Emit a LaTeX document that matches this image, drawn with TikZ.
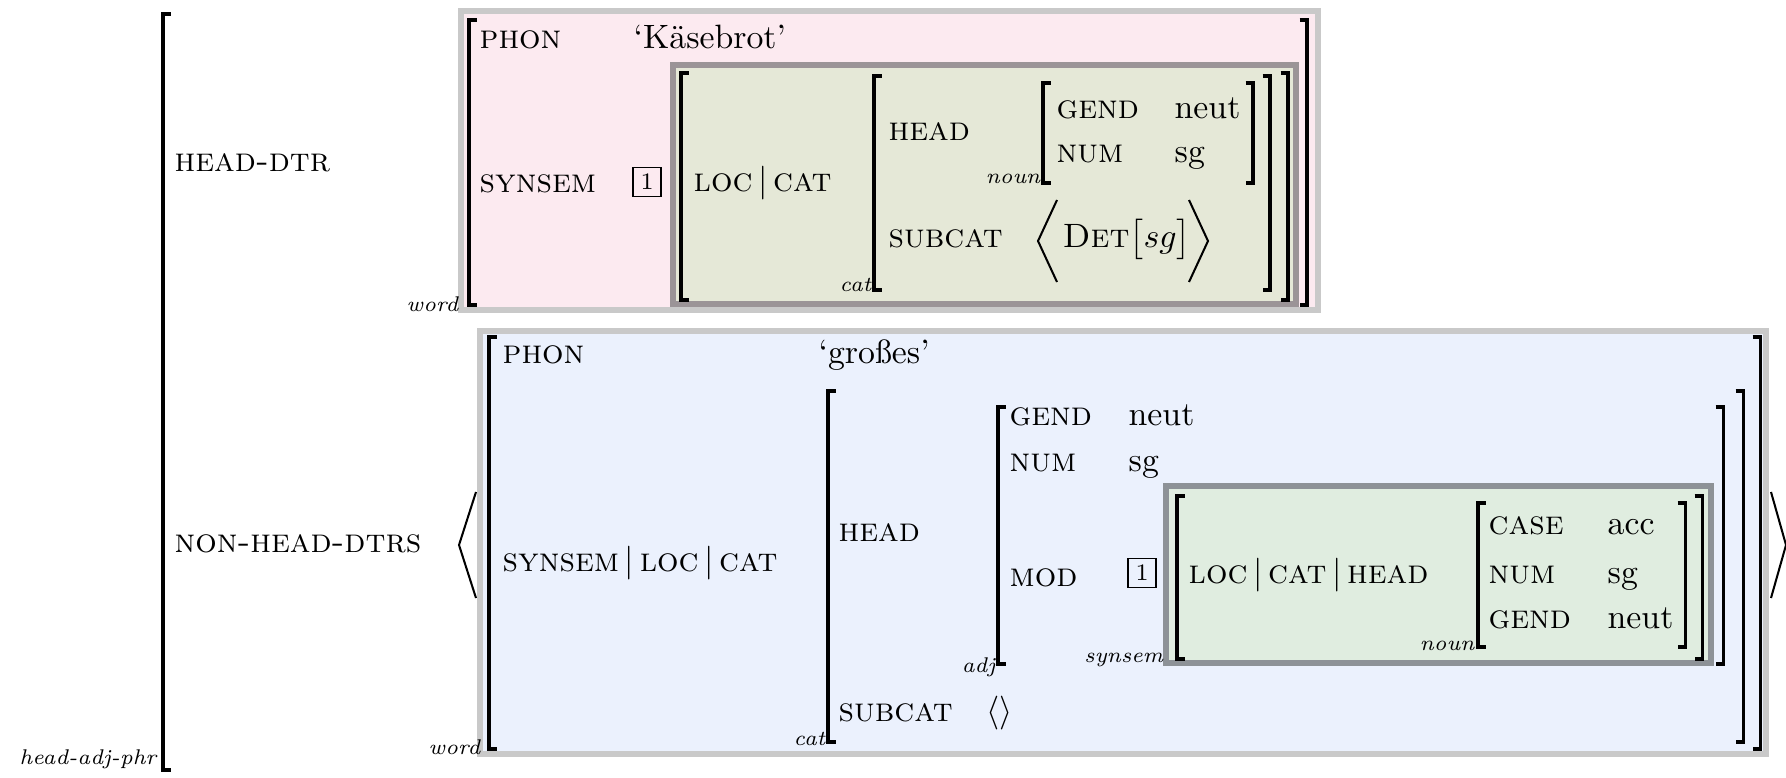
\documentclass[tikz,border=0pt]{standalone}
\usepackage{tikz}

\definecolor{pinkfill}{RGB}{252,234,240}
\definecolor{olivefill}{RGB}{229,232,215}
\definecolor{bluefill}{RGB}{235,241,253}
\definecolor{greenfill}{RGB}{224,237,224}
\definecolor{lightframe}{RGB}{201,201,201}
\definecolor{oliveframe}{RGB}{155,148,151}
\definecolor{greenframe}{RGB}{141,146,151}

\tikzset{
  feat/.style={anchor=base west,inner sep=0pt,font=\scshape},
  val/.style={anchor=base west,inner sep=0pt},
  sortlbl/.style={anchor=base east,inner sep=0pt,font=\fontsize{6.3}{7}\selectfont\itshape},
  tagbox/.style={draw,line width=.5pt,font=\scriptsize,inner sep=0pt,
    minimum width=8.4pt,minimum height=8.6pt},
  brk/.style={line width=.9pt},
  angl/.style={line width=.6pt},
  frame/.style={line width=1.5pt}
}

% AVM brackets: x, top, bottom
\newcommand\avmL[3]{\draw[brk] (#1+7.5,#2) -- (#1,#2) -- (#1,#3) -- (#1+7.5,#3);}
\newcommand\avmR[3]{\draw[brk] (#1-7.5,#2) -- (#1,#2) -- (#1,#3) -- (#1-7.5,#3);}

\begin{document}
\begin{tikzpicture}[x=0.296pt,y=-0.296pt]
  \useasboundingbox (0,0) rectangle (1786,778);

  % coloured boxes
  \draw[frame,lightframe,fill=pinkfill] (461,11) rectangle (1318,310);
  \draw[frame,oliveframe,fill=olivefill] (673,65) rectangle (1296,304);
  \draw[frame,lightframe,fill=bluefill] (480,331) rectangle (1766,754);
  \draw[frame,greenframe,fill=greenfill] (1166,486) rectangle (1711,663);

  % brackets
  \avmL{163}{14}{770}
  \avmL{469}{20}{305} \avmR{1307}{20}{305}
  \avmL{681}{73}{300} \avmR{1288}{73}{300}
  \avmL{874}{76}{290} \avmR{1270}{76}{290}
  \avmL{1043}{83}{183} \avmR{1253}{83}{183}
  \avmL{489}{337}{749} \avmR{1760}{337}{749}
  \avmL{828}{391}{742} \avmR{1743}{391}{742}
  \avmL{998}{407}{664} \avmR{1723}{407}{664}
  \avmL{1177}{496}{659} \avmR{1702}{496}{659}
  \avmL{1478}{503}{647} \avmR{1685}{503}{647}

  % list brackets
  \draw[angl] (476,492) -- (459,545) -- (476,598);
  \draw[angl] (1771,492) -- (1786,545) -- (1771,598);
  \draw[angl] (1057,200) -- (1038,241) -- (1057,282);
  \draw[angl] (1189,200) -- (1208,241) -- (1189,282);

  % outer matrix
  \node[feat] (hdtr) at (174,172) {head-dtr};
  \node[feat] (nhdtrs) at (174,552) {non-head-dtrs};
  \node[sortlbl] (hap) at (157,764) {head-adj-phr};

  % head daughter
  \node[sortlbl] (word1) at (459,312) {word};
  \node[feat] (phon1) at (479,49) {phon};
  \node[val] (kb) at (633,49) {‘Käsebrot’};
  \node[feat] (ss1) at (479,193) {synsem};
  \node[tagbox] (tag1) at (647,182) {1};
  \node[val] (lc1) at (693,192) {\textsc{loc}$\,|\,$\textsc{cat}};
  \node[sortlbl] (cat1) at (872,292) {cat};
  \node[feat] (hd1) at (888,141) {head};
  \node[sortlbl] (noun1) at (1041,184) {noun};
  \node[feat] (gd1) at (1056,119) {gend};
  \node[val] (gv1) at (1174,119) {neut};
  \node[feat] (nm1) at (1056,163) {num};
  \node[val] (nv1) at (1174,163) {sg};
  \node[feat] (sc1) at (888,248) {subcat};
  \node[val] (det) at (1062,248) {\textsc{Det}$\bigl[sg\bigr]$};

  % non-head daughter
  \node[sortlbl] (word2) at (481,754) {word};
  \node[feat] (phon2) at (502,364) {phon};
  \node[val] (gr) at (818,364) {‘großes’};
  \node[val] (slc2) at (502,571) {\textsc{synsem}$\,|\,$\textsc{loc}$\,|\,$\textsc{cat}};
  \node[sortlbl] (cat2) at (826,745) {cat};
  \node[feat] (hd2) at (838,541) {head};
  \node[feat] (sc2) at (838,721) {subcat};
  \node[val] (el) at (986,721) {$\langle\rangle$};
  \node[sortlbl] (adj) at (996,672) {adj};
  \node[feat] (gd2) at (1009,426) {gend};
  \node[val] (gv2) at (1128,426) {neut};
  \node[feat] (nm2) at (1009,472) {num};
  \node[val] (nv2) at (1128,472) {sg};
  \node[feat] (mod) at (1009,586) {mod};
  \node[tagbox] (tag2) at (1142,573) {1};
  \node[sortlbl] (ssl) at (1164,662) {synsem};
  \node[val] (lch) at (1188,583) {\textsc{loc}$\,|\,$\textsc{cat}$\,|\,$\textsc{head}};
  \node[sortlbl] (noun2) at (1475,650) {noun};
  \node[feat] (cs3) at (1488,535) {case};
  \node[val] (cv3) at (1607,535) {acc};
  \node[feat] (nm3) at (1488,583) {num};
  \node[val] (nv3) at (1607,583) {sg};
  \node[feat] (gd3) at (1488,628) {gend};
  \node[val] (gv3) at (1607,628) {neut};
\end{tikzpicture}
\end{document}
